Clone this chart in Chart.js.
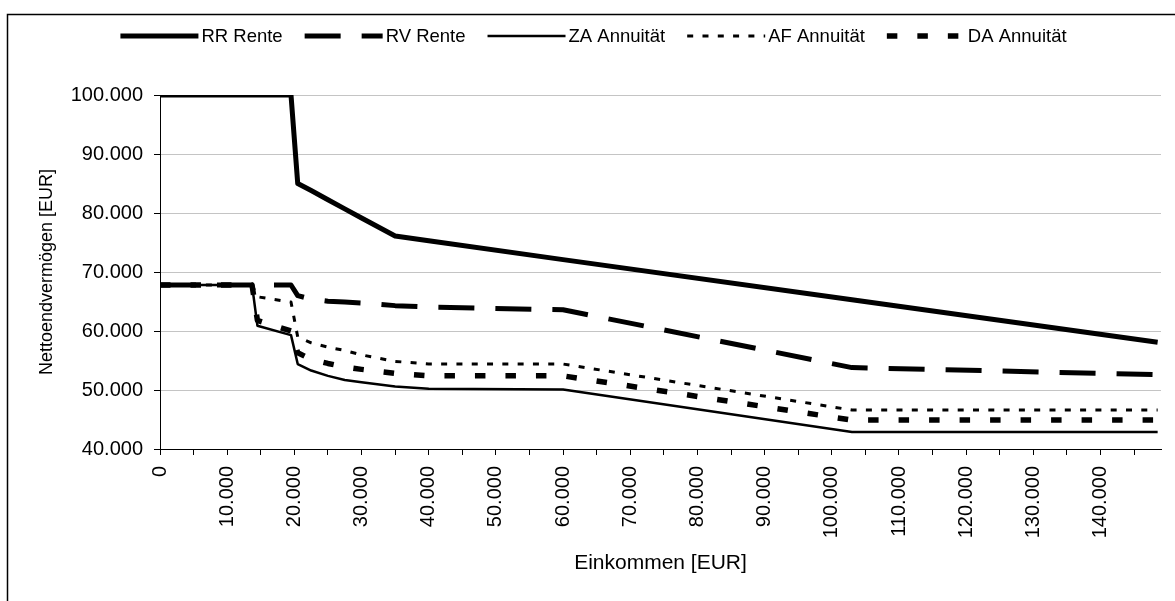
<!DOCTYPE html>
<html>
<head>
<meta charset="utf-8">
<title>Nettoendvermögen nach Einkommen</title>
<script src="https://cdn.jsdelivr.net/npm/chart.js@4.4.1/dist/chart.umd.min.js"></script>
<style>
  html, body { margin: 0; padding: 0; background: #fff; }
  #rahmen { position: relative; width: 1175px; height: 601px; }
</style>
</head>
<body>
<div id="rahmen"><canvas id="grafico"></canvas></div>
<script>
// Einkommen (EUR) an den Stützstellen
const einkommen = [0, 13700, 14500, 19500, 20500, 22500, 25000, 27500, 30000, 35000, 40000, 60000, 103000, 148500];

// Nettoendvermögen (EUR) je Variante
const rrRente     = [100000, 100000, 100000, 100000, 85000, 83800, 82250, 80700, 79150, 76100, 75300, 72100, 65300, 58100];
const rvRente     = [67800, 67800, 67800, 67800, 66000, 65400, 65050, 64900, 64750, 64300, 64050, 63600, 53800, 52600];
const zaAnnuitaet = [67800, 67800, 60900, 59300, 54400, 53300, 52400, 51700, 51300, 50600, 50200, 50100, 42900, 42900];
const afAnnuitaet = [67800, 67800, 65800, 64900, 59000, 58000, 57250, 56700, 55950, 54850, 54400, 54400, 46600, 46600];
const daAnnuitaet = [67800, 67800, 61800, 60000, 56300, 55200, 54500, 53900, 53500, 52800, 52400, 52400, 44900, 44900];

// Achsen
const xAchse = [0, 149000, 5000, 10000];   // min, max, Teilstrich, Beschriftung
const yAchse = [40000, 100000, 10000];     // min, max, Schritt

const schrift = '"Liberation Sans", Arial, sans-serif';
Chart.defaults.font.family = schrift;
Chart.defaults.color = '#000';

function tausender(v) {
    return String(v).replace(/\B(?=(\d{3})+(?!\d))/g, '.');
}

function punkte(werte) {
    return einkommen.map((x, i) => ({ x: x, y: werte[i] }));
}

// Teilstriche alle 5.000 bis unter das Achsenende
function xTeilstriche() {
    let striche = [];
    for (let v = xAchse[0]; v < xAchse[1]; v += xAchse[2]) {
        striche.push({ value: v });
    }
    return striche;
}

// weißer Hintergrund und Rahmen oben/links
const hintergrund = {
    id: 'hintergrund',
    beforeDraw(chart) {
        const ctx = chart.ctx;
        ctx.save();
        ctx.fillStyle = '#fff';
        ctx.fillRect(0, 0, chart.width, chart.height);
        ctx.strokeStyle = '#000';
        ctx.lineWidth = 1.5;
        ctx.beginPath();
        ctx.moveTo(7.5, chart.height);
        ctx.lineTo(7.5, 14.5);
        ctx.lineTo(chart.width, 14.5);
        ctx.stroke();
        ctx.restore();
    }
};

// Legende mit Linienmustern
const legende = {
    id: 'legendeLinien',
    afterDraw(chart) {
        const ctx = chart.ctx;
        const sets = chart.data.datasets;
        const linie = 78, luecke = 3, abstand = 22, y = 36;
        ctx.save();
        ctx.font = '18.5px ' + schrift;
        ctx.textBaseline = 'middle';
        let breite = abstand * (sets.length - 1);
        sets.forEach(ds => { breite += linie + luecke + ctx.measureText(ds.label).width; });
        let x = (chart.width - breite) / 2 + 6;
        sets.forEach(ds => {
            ctx.beginPath();
            ctx.setLineDash(ds.borderDash || []);
            ctx.lineWidth = ds.borderWidth;
            ctx.strokeStyle = ds.borderColor;
            ctx.lineCap = 'butt';
            ctx.moveTo(x, y);
            ctx.lineTo(x + linie, y);
            ctx.stroke();
            ctx.setLineDash([]);
            ctx.fillStyle = '#000';
            ctx.fillText(ds.label, x + linie + luecke, y + 1);
            x += linie + luecke + ctx.measureText(ds.label).width + abstand;
        });
        ctx.restore();
    }
};

let ctx = document.getElementById('grafico').getContext('2d');

new Chart(ctx, {
    type: 'line',
    data: {
        datasets: [
            { label: 'RR Rente', data: punkte(rrRente), borderColor: '#000', borderWidth: 5 },
            { label: 'RV Rente', data: punkte(rvRente), borderColor: '#000', borderWidth: 5, borderDash: [36, 21] },
            { label: 'ZA Annuität', data: punkte(zaAnnuitaet), borderColor: '#000', borderWidth: 2.5 },
            { label: 'AF Annuität', data: punkte(afAnnuitaet), borderColor: '#000', borderWidth: 3, borderDash: [6, 9.3] },
            { label: 'DA Annuität', data: punkte(daAnnuitaet), borderColor: '#000', borderWidth: 5.5, borderDash: [10.5, 20] }
        ]
    },
    options: {
        responsive: true,
        maintainAspectRatio: false,
        animation: false,
        layout: { padding: { top: 95, right: 14, bottom: 0, left: 0 } },
        elements: {
            point: { radius: 0, hoverRadius: 0 },
            line: { tension: 0, borderJoinStyle: 'round', borderCapStyle: 'butt' }
        },
        plugins: {
            legend: { display: false },
            tooltip: { enabled: false }
        },
        scales: {
            x: {
                type: 'linear',
                bounds: 'data',
                min: xAchse[0],
                max: xAchse[1],
                border: { color: '#000', width: 1 },
                grid: { drawOnChartArea: false, drawTicks: true, tickLength: 6, tickColor: '#000' },
                afterBuildTicks: s => { s.ticks = xTeilstriche(); },
                ticks: {
                    autoSkip: false,
                    minRotation: 90,
                    maxRotation: 90,
                    padding: 11,
                    font: { size: 20 },
                    callback: v => v % xAchse[3] === 0 ? tausender(v) : ''
                },
                title: {
                    display: true,
                    text: 'Einkommen [EUR]',
                    font: { size: 21 },
                    padding: { top: 0, bottom: 25 }
                },
                afterFit: s => {
                    s.height = 152;
                    s.paddingLeft = 0;
                    s.paddingRight = 0;
                }
            },
            y: {
                min: yAchse[0],
                max: yAchse[1],
                border: { color: '#000', width: 1 },
                grid: {
                    color: c => c.tick && c.tick.value === yAchse[0] ? 'rgba(0,0,0,0)' : '#c4c4c4',
                    tickColor: '#000',
                    tickLength: 6
                },
                ticks: {
                    stepSize: yAchse[2],
                    padding: 11,
                    font: { size: 20 },
                    callback: v => tausender(v)
                },
                title: {
                    display: true,
                    text: 'Nettoendvermögen [EUR]',
                    font: { size: 18 },
                    padding: { top: 36, bottom: 0 }
                },
                afterFit: s => { s.width = 160; }
            }
        }
    },
    plugins: [hintergrund, legende]
});
</script>
</body>
</html>
